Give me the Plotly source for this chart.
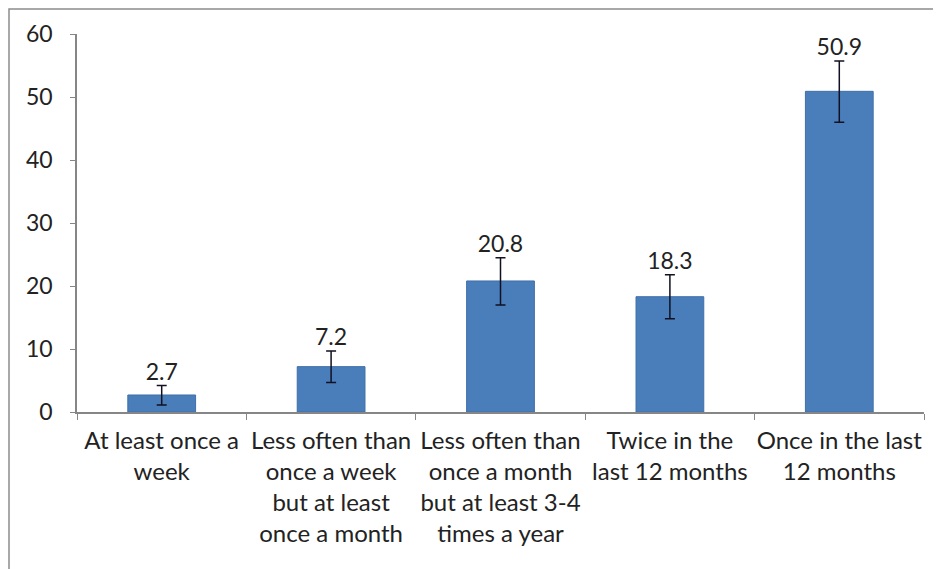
import plotly.graph_objects as go

categories = [
    "At least once a<br>week",
    "Less often than<br>once a week<br>but at least<br>once a month",
    "Less often than<br>once a month<br>but at least 3-4<br>times a year",
    "Twice in the<br>last 12 months",
    "Once in the last<br>12 months",
]
values = [2.7, 7.2, 20.8, 18.3, 50.9]
err_plus = [1.5, 2.5, 3.7, 3.5, 4.8]
err_minus = [1.6, 2.5, 3.8, 3.5, 4.9]
y_ticks = [0, 10, 20, 30, 40, 50, 60]

FONT = "Lato"
OFF = 8  # page body margin
W, H = 941, 569
ML, MR, MT, MB = 77 - OFF, 941 - (924 - OFF), 34 - OFF, 569 - (412 - OFF)
pw = W - ML - MR
ph = H - MT - MB

fig = go.Figure()
fig.add_trace(go.Bar(
    x=categories, y=values,
    marker=dict(color="#4A7EBB", line=dict(color="#3F6FA8", width=1)),
    error_y=dict(type="data", symmetric=False, array=err_plus, arrayminus=err_minus,
                 color="#111122", thickness=1.5, width=5),
    hoverinfo="skip",
))
fig.add_trace(go.Scatter(
    x=categories,
    y=[v + e for v, e in zip(values, err_plus)],
    mode="text",
    text=[f"{v:.1f}" for v in values],
    textposition="top center",
    textfont=dict(family=FONT, size=23, color="#222222"),
    cliponaxis=False,
    hoverinfo="skip",
))

fig.update_layout(
    width=W, height=H,
    margin=dict(l=ML, r=MR, t=MT, b=MB, autoexpand=False),
    paper_bgcolor="white", plot_bgcolor="white",
    showlegend=False,
    bargap=0.6,
    font=dict(family=FONT, size=24, color="#222222"),
    xaxis=dict(
        showline=True, linecolor="#868686", linewidth=1.5,
        ticks="outside", tickson="boundaries", ticklen=6, tickcolor="#868686",
        ticklabelstandoff=6, tickangle=0, automargin=False,
        tickfont=dict(family=FONT, size=24, color="#222222"),
        showgrid=False,
    ),
    yaxis=dict(
        range=[0, 60], tickvals=y_ticks,
        showline=True, linecolor="#868686", linewidth=1.5,
        ticks="outside", ticklen=5, tickcolor="#868686",
        ticklabelstandoff=13, automargin=False,
        tickfont=dict(family=FONT, size=23, color="#222222"),
        showgrid=False, zeroline=False,
    ),
    shapes=[dict(
        type="rect", xref="paper", yref="paper",
        x0=(1 - ML) / pw, x1=(W + 20 - ML) / pw,
        y0=-(H + 20 - MT - ph) / ph, y1=(ph + MT - 1) / ph,
        line=dict(color="#8c8c8c", width=1.5), layer="below",
    )],
)

fig.write_html("out.html")
